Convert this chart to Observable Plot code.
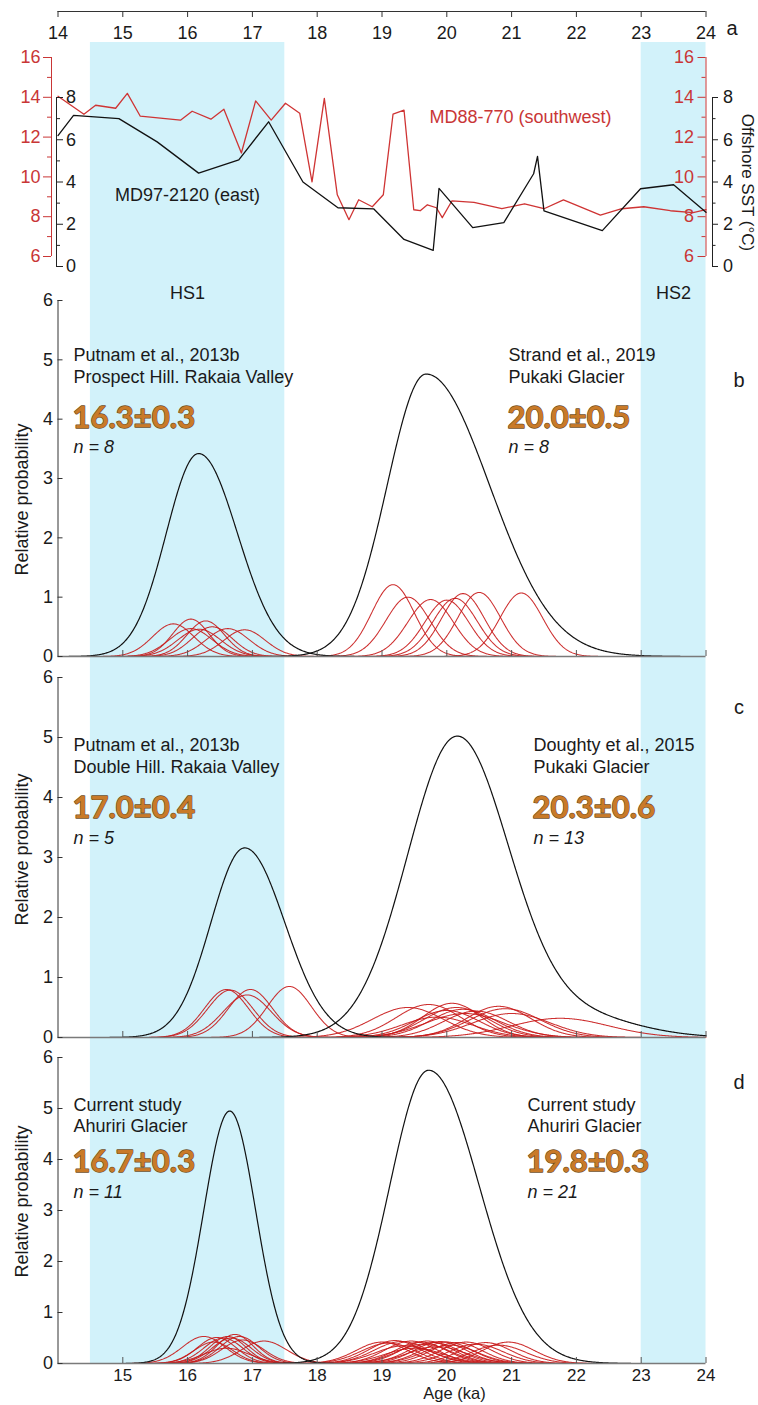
<!DOCTYPE html>
<html>
<head>
<meta charset="utf-8">
<script src="https://cdn.jsdelivr.net/npm/d3@7"></script>
<script src="https://cdn.jsdelivr.net/npm/@observablehq/plot@0.6"></script>
<style>
html,body{margin:0;padding:0;background:#fff;}
#fig{position:relative;width:758px;height:1405px;overflow:hidden;background:#fff;}
#fig svg{position:absolute;left:0;}
</style>
</head>
<body>
<div id="fig"></div>
<script>
// ---------------- DATA ----------------
const ageTicks = [14, 15, 16, 17, 18, 19, 20, 21, 22, 23, 24];
const bandNames = ["HS1", "HS2"];
const bandStarts = [14.5, 23.0];
const bandEnds = [17.5, 24.0];

// Panel a: offshore SST records
const md88Age = [14.00,14.40,14.58,14.89,15.07,15.27,15.89,16.07,16.36,16.56,16.83,17.05,17.29,17.51,17.73,17.92,18.11,18.31,18.49,18.64,18.85,19.02,19.17,19.34,19.49,19.59,19.70,19.84,19.93,20.08,20.42,20.85,21.20,21.50,21.80,22.37,22.70,23.04,23.45,23.80,24.00];
const md88SST = [14.05,13.15,13.60,13.45,14.20,13.05,12.85,13.30,12.90,13.40,11.20,13.82,12.85,13.70,13.20,9.75,13.95,9.10,7.85,8.85,8.50,9.10,13.15,13.35,8.35,8.30,8.60,8.45,7.95,8.80,8.72,8.40,8.65,8.40,8.85,8.08,8.40,8.50,8.30,8.20,8.35];
const md97Age = [14.00,14.24,14.94,15.53,16.17,16.79,17.25,17.78,18.32,18.87,19.34,19.79,19.88,20.40,20.88,21.34,21.40,21.50,22.40,22.99,23.50,24.00];
const md97SST = [6.20,7.15,7.00,5.90,4.42,5.05,6.85,4.00,2.78,2.73,1.28,0.76,3.70,1.84,2.08,4.39,5.21,2.63,1.70,3.68,3.87,2.57];
const redTicksMajor = [6, 8, 10, 12, 14, 16];
const redTicksMinor = [7, 9, 11, 13, 15];
const blackTicksMajor = [0, 2, 4, 6, 8];
const blackTicksMinor = [1, 3, 5, 7];
const probTicks = [0, 1, 2, 3, 4, 5, 6];

// Individual sample ages: [age ka, 1-sigma ka, relative probability peak]
const redB = [[15.78,0.32,0.55],[16.05,0.28,0.63],[16.28,0.29,0.60],[16.05,0.33,0.47],[16.18,0.33,0.46],[16.38,0.31,0.50],[16.62,0.33,0.47],[16.88,0.32,0.45],
              [19.17,0.33,1.21],[19.40,0.34,1.00],[19.75,0.35,0.96],[20.00,0.34,0.95],[20.13,0.34,0.98],[20.25,0.33,1.06],[20.50,0.33,1.08],[21.15,0.33,1.07]];
const redC = [[16.60,0.34,0.80],[16.66,0.35,0.79],[16.97,0.34,0.80],[16.92,0.37,0.71],[17.57,0.34,0.85],
              [19.40,0.55,0.50],[19.72,0.50,0.55],[19.85,0.55,0.34],[20.00,0.50,0.45],[20.08,0.45,0.57],[20.15,0.50,0.50],[20.25,0.50,0.47],[20.28,0.60,0.40],[20.45,0.50,0.44],[20.80,0.50,0.52],[20.90,0.55,0.48],[21.00,0.60,0.40],[21.75,0.75,0.32]];
const redD = [[16.25,0.33,0.53],[16.40,0.30,0.42],[16.45,0.30,0.51],[16.55,0.30,0.50],[16.60,0.35,0.30],[16.62,0.28,0.53],[16.68,0.30,0.50],[16.73,0.28,0.57],[16.80,0.30,0.53],[16.85,0.32,0.46],[17.18,0.35,0.44],
              [19.00,0.40,0.42],[19.10,0.42,0.40],[19.20,0.40,0.45],[19.30,0.42,0.43],[19.35,0.45,0.35],[19.45,0.40,0.44],[19.50,0.45,0.30],[19.60,0.40,0.42],[19.65,0.42,0.38],[19.70,0.40,0.44],[19.80,0.40,0.41],[19.85,0.45,0.33],[19.90,0.40,0.43],[20.00,0.40,0.42],[20.05,0.42,0.36],[20.15,0.40,0.41],[20.30,0.40,0.42],[20.45,0.42,0.38],[20.60,0.40,0.41],[20.80,0.42,0.36],[20.95,0.40,0.42]];
// Summed probability curves: [curve, mode ka, sigma left, sigma right, peak]
const blackB = [["L",16.17,0.50,0.60,3.42],["R",19.68,0.60,0.98,4.76]];
const blackC = [["L",16.88,0.52,0.62,3.16],["R",20.15,0.76,0.80,4.98],["R",22.00,0.90,0.90,0.35]];
const blackD = [["L",16.65,0.40,0.40,4.95],["R",19.72,0.60,0.78,5.75]];

// Annotations
const sourcesB = ["Putnam et al., 2013b", "Strand et al., 2019"];
const sitesB = ["Prospect Hill. Rakaia Valley", "Pukaki Glacier"];
const agesB = ["16.3±0.3", "20.0±0.5"];
const nB = [8, 8];
const sourcesC = ["Putnam et al., 2013b", "Doughty et al., 2015"];
const sitesC = ["Double Hill. Rakaia Valley", "Pukaki Glacier"];
const agesC = ["17.0±0.4", "20.3±0.6"];
const nC = [5, 13];
const sourcesD = ["Current study", "Current study"];
const sitesD = ["Ahuriri Glacier", "Ahuriri Glacier"];
const agesD = ["16.7±0.3", "19.8±0.3"];
const nD = [11, 21];

// ---------------- HELPERS ----------------
const W = 758, ML = 57.5, MR = 52.5;
const FONT = "'Liberation Sans', Arial, sans-serif";
const RED = "#c93636";
const INK = "#1a1a1a";
const fig = document.getElementById("fig");

function place(svg, top) { svg.style.top = top + "px"; fig.appendChild(svg); }

function makePlot(height, mt, mb, ydom, marks) {
  return Plot.plot({
    width: W, height, marginLeft: ML, marginRight: MR, marginTop: mt, marginBottom: mb,
    x: {domain: [14, 24], axis: null},
    y: {domain: ydom, axis: null},
    style: {background: "transparent", overflow: "visible", fontFamily: FONT, fontSize: "18px", color: INK},
    marks
  });
}

function gaussCurves(params) {
  const out = [];
  params.forEach(([c, s, p], i) => {
    const lo = Math.max(14, c - 4 * s), hi = Math.min(24, c + 4 * s);
    for (let x = lo; x <= hi + 1e-9; x += 0.01) out.push({id: i, x, y: p * Math.exp(-0.5 * ((x - c) / s) ** 2)});
  });
  return out;
}

function sumCurves(rows) {
  const out = [];
  const ids = [...new Set(rows.map(r => r[0]))];
  ids.forEach(id => {
    const comps = rows.filter(r => r[0] === id);
    const lo = Math.max(14, Math.min(...comps.map(r => r[1] - 4 * r[2])));
    const hi = Math.min(24, Math.max(...comps.map(r => r[1] + 4 * r[3])));
    for (let x = lo; x <= hi + 1e-9; x += 0.01) {
      let y = 0;
      for (const [, c, sL, sR, p] of comps) { const s = x < c ? sL : sR; y += p * Math.exp(-0.5 * ((x - c) / s) ** 2); }
      out.push({id, x, y});
    }
  });
  return out;
}

// frame-anchored label; anchors given explicitly
function lbl(str, o) {
  return Plot.text([str], {text: d => d, textAnchor: "middle", lineAnchor: "middle", fontSize: 18, fill: INK, ...o});
}
function txt(str, o) {
  return lbl(str, {frameAnchor: "top-left", textAnchor: "start", ...o});
}

function annotBlock(source, site, age, n, dx, dys) {
  return [
    txt(source, {dx, dy: dys[0]}),
    txt(site, {dx, dy: dys[1]}),
    txt(age, {dx: dx - 1, dy: dys[2], fontFamily: "Lato, 'Open Sans', sans-serif", fontWeight: "bold", fontSize: 31, fill: "#c97a28", stroke: "#6f4e1f", strokeWidth: 1.3}),
    txt(`n = ${n}`, {dx, dy: dys[3], fontStyle: "italic"})
  ];
}

function probPanel(o) {
  const marks = [
    Plot.line(gaussCurves(o.red), {x: "x", y: "y", z: "id", stroke: "#c81818", strokeWidth: 1.05, strokeOpacity: 0.9}),
    Plot.line(sumCurves(o.black), {x: "x", y: "y", z: "id", stroke: "#111", strokeWidth: 1.2}),
    Plot.ruleY([0], {x1: 14, x2: 24, stroke: "#7a7a7a", strokeWidth: 1.6}),
    Plot.ruleX(ageTicks.slice(1), {y1: 0, y2: 0, insetTop: -6, stroke: "#555"}),
    Plot.ruleX([14], {y1: 0, y2: 6, stroke: "#333"}),
    Plot.ruleY(probTicks, {x1: 14, x2: 14, insetRight: -5, stroke: "#333"}),
    Plot.text(probTicks, {x: 14, y: d => d, text: d => `${d}`, textAnchor: "end", lineAnchor: "middle", dx: -5, fontSize: 18, fill: INK}),
    lbl("Relative probability", {frameAnchor: "left", dx: -35.5, dy: o.titleDy, rotate: -90}),
    lbl(o.letter, {frameAnchor: "top-right", dx: 33, dy: o.letterDy, fontSize: 20}),
    ...annotBlock(o.sources[0], o.sites[0], o.ages[0], o.ns[0], 15.5, o.dys),
    ...annotBlock(o.sources[1], o.sites[1], o.ages[1], o.ns[1], o.rightDx, o.dys)
  ];
  if (o.xLabels) {
    marks.push(Plot.text(ageTicks.slice(1), {x: d => d, text: d => `${d}`, frameAnchor: "bottom", lineAnchor: "middle", dy: 12.5, fontSize: 17, fill: INK}));
    marks.push(lbl("Age (ka)", {frameAnchor: "bottom-left", dx: 396.5, dy: 30.5, fontSize: 16.5}));
  }
  return makePlot(o.height, o.mt, o.mb, [0, 6], marks);
}

// ---------------- BACKGROUND: HS bands ----------------
const bandIdx = bandNames.map((_, i) => i);
place(makePlot(1405, 42, 42, [0, 1], [
  Plot.rect(bandIdx, {x1: i => bandStarts[i], x2: i => bandEnds[i], y1: 0, y2: 1, fill: "#d2f2fa"}),
  Plot.text(bandIdx, {x: i => (bandStarts[i] + bandEnds[i]) / 2, text: i => bandNames[i], frameAnchor: "top", lineAnchor: "middle", dy: 251, fontSize: 18, fill: INK})
]), 0);

// ---------------- TOP AGE AXIS ----------------
place(makePlot(60, 0, 49, [0, 1], [
  Plot.ruleY([0], {x1: 14, x2: 24, stroke: "#333"}),
  Plot.ruleX(ageTicks, {y1: 0, y2: 0, insetBottom: -6, stroke: "#333"}),
  Plot.text(ageTicks, {x: d => d, text: d => `${d}`, frameAnchor: "bottom", lineAnchor: "middle", dy: 22, fontSize: 18, fill: INK}),
  lbl("a", {frameAnchor: "bottom-right", dx: 26, dy: 17, fontSize: 20})
]), 0);

// ---------------- PANEL a: MD88-770 (red scale) ----------------
const md88 = md88Age.map((a, i) => ({age: a, sst: md88SST[i]}));
place(makePlot(300, 57, 44, [6, 16], [
  Plot.line(md88, {x: "age", y: "sst", stroke: "#cf3434", strokeWidth: 1.3}),
  Plot.ruleX([14], {y1: 6, y2: 16, dx: -6.5, stroke: RED}),
  Plot.ruleY(redTicksMajor, {x1: 14, x2: 14, dx: -6.5, insetLeft: -8, stroke: RED}),
  Plot.ruleY(redTicksMinor, {x1: 14, x2: 14, dx: -6.5, insetLeft: -4, stroke: RED}),
  Plot.text(redTicksMajor, {x: 14, y: d => d, text: d => `${d}`, dx: -17.5, textAnchor: "end", lineAnchor: "middle", fontSize: 18, fill: RED}),
  Plot.ruleX([24], {y1: 6, y2: 16, stroke: RED}),
  Plot.ruleY(redTicksMajor, {x1: 24, x2: 24, insetLeft: -8, stroke: RED}),
  Plot.ruleY(redTicksMinor, {x1: 24, x2: 24, insetLeft: -4, stroke: RED}),
  Plot.text(redTicksMajor, {x: 24, y: d => d, text: d => `${d}`, dx: -12, textAnchor: "end", lineAnchor: "middle", fontSize: 18, fill: RED}),
  lbl("MD88-770 (southwest)", {frameAnchor: "top-left", dx: 462.5, dy: 60, fill: RED}),
  lbl("Offshore SST (°C)", {frameAnchor: "right", dx: 41.5, dy: 25.5, rotate: 90, fontSize: 17})
]), 0);

// ---------------- PANEL a: MD97-2120 (black scale) ----------------
const md97 = md97Age.map((a, i) => ({age: a, sst: md97SST[i]}));
place(makePlot(300, 97, 34, [0, 8], [
  Plot.line(md97, {x: "age", y: "sst", stroke: "#111", strokeWidth: 1.3}),
  Plot.ruleX([14], {y1: 0, y2: 8, dx: -1.5, stroke: "#222"}),
  Plot.ruleY(blackTicksMajor, {x1: 14, x2: 14, dx: -1.5, insetRight: -7, stroke: "#222"}),
  Plot.ruleY(blackTicksMinor, {x1: 14, x2: 14, dx: -1.5, insetRight: -4, stroke: "#222"}),
  Plot.text(blackTicksMajor, {x: 14, y: d => d, text: d => `${d}`, dx: 8, textAnchor: "start", lineAnchor: "middle", fontSize: 18, fill: INK}),
  Plot.ruleX([24], {y1: 0, y2: 8, dx: 6.5, stroke: "#222"}),
  Plot.ruleY(blackTicksMajor, {x1: 24, x2: 24, dx: 6.5, insetRight: -6, stroke: "#222"}),
  Plot.ruleY(blackTicksMinor, {x1: 24, x2: 24, dx: 6.5, insetRight: -3.5, stroke: "#222"}),
  Plot.text(blackTicksMajor, {x: 24, y: d => d, text: d => `${d}`, dx: 17, textAnchor: "start", lineAnchor: "middle", fontSize: 18, fill: INK}),
  lbl("MD97-2120 (east)", {frameAnchor: "top-left", dx: 129.5, dy: 98})
]), 0);

// ---------------- PANELS b, c, d ----------------
place(probPanel({height: 400, mt: 20, mb: 24, red: redB, black: blackB, letter: "b", letterDy: 80, titleDy: 21,
  sources: sourcesB, sites: sitesB, ages: agesB, ns: nB, rightDx: 450.5, dys: [55, 77, 118, 147]}), 280);
place(probPanel({height: 400, mt: 17, mb: 23, red: redC, black: blackC, letter: "c", letterDy: 30, titleDy: -8,
  sources: sourcesC, sites: sitesC, ages: agesC, ns: nC, rightDx: 475.5, dys: [68, 90, 131, 161]}), 660);
place(probPanel({height: 365, mt: 17, mb: 42, red: redD, black: blackD, letter: "d", letterDy: 25, titleDy: -9,
  sources: sourcesD, sites: sitesD, ages: agesD, ns: nD, rightDx: 469.5, dys: [48, 69, 105, 135], xLabels: true}), 1040);
</script>
</body>
</html>
